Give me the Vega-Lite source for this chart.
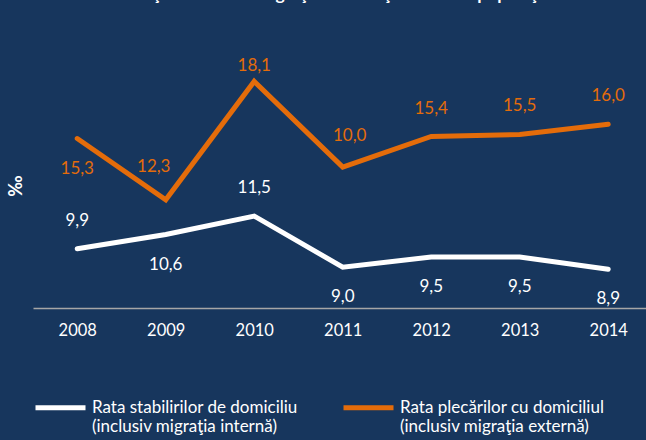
{
  "$schema": "https://vega.github.io/schema/vega-lite/v6.json",
  "autosize": {"type": "none"},
  "width": 613,
  "height": 245,
  "padding": {"left": 33, "top": 63, "right": 0, "bottom": 132},
  "background": "#17365D",
  "title": {
    "text": "Evoluţia ratelor de migraţie internă şi externă a populaţiei",
    "color": "#FFFFFF",
    "font": "Lato",
    "fontSize": 17.5,
    "fontWeight": "bold",
    "anchor": "middle",
    "baseline": "alphabetic",
    "offset": 40,
    "dx": -7
  },
  "config": {
    "view": {"stroke": null},
    "font": "Lato"
  },
  "data": {
    "values": [
      {"year": 2008, "series": "Rata stabilirilor de domiciliu (inclusiv migraţia internă)", "value": 9.9, "label": "9,9"},
      {"year": 2009, "series": "Rata stabilirilor de domiciliu (inclusiv migraţia internă)", "value": 10.6, "label": "10,6"},
      {"year": 2010, "series": "Rata stabilirilor de domiciliu (inclusiv migraţia internă)", "value": 11.5, "label": "11,5"},
      {"year": 2011, "series": "Rata stabilirilor de domiciliu (inclusiv migraţia internă)", "value": 9.0, "label": "9,0"},
      {"year": 2012, "series": "Rata stabilirilor de domiciliu (inclusiv migraţia internă)", "value": 9.5, "label": "9,5"},
      {"year": 2013, "series": "Rata stabilirilor de domiciliu (inclusiv migraţia internă)", "value": 9.5, "label": "9,5"},
      {"year": 2014, "series": "Rata stabilirilor de domiciliu (inclusiv migraţia internă)", "value": 8.9, "label": "8,9"},
      {"year": 2008, "series": "Rata plecărilor cu domiciliul (inclusiv migraţia externă)", "value": 15.3, "label": "15,3"},
      {"year": 2009, "series": "Rata plecărilor cu domiciliul (inclusiv migraţia externă)", "value": 12.3, "label": "12,3"},
      {"year": 2010, "series": "Rata plecărilor cu domiciliul (inclusiv migraţia externă)", "value": 18.1, "label": "18,1"},
      {"year": 2011, "series": "Rata plecărilor cu domiciliul (inclusiv migraţia externă)", "value": 13.9, "label": "10,0"},
      {"year": 2012, "series": "Rata plecărilor cu domiciliul (inclusiv migraţia externă)", "value": 15.4, "label": "15,4"},
      {"year": 2013, "series": "Rata plecărilor cu domiciliul (inclusiv migraţia externă)", "value": 15.5, "label": "15,5"},
      {"year": 2014, "series": "Rata plecărilor cu domiciliul (inclusiv migraţia externă)", "value": 16.0, "label": "16,0"}
    ]
  },
  "encoding": {
    "x": {
      "field": "year",
      "type": "quantitative",
      "scale": {"domain": [2007.5, 2014.427], "nice": false, "zero": false},
      "axis": {
        "title": null,
        "values": [2008, 2009, 2010, 2011, 2012, 2013, 2014],
        "format": "d",
        "grid": false,
        "ticks": false,
        "domainColor": "#A6A6A6",
        "domainWidth": 1.5,
        "labelColor": "#FFFFFF",
        "labelFont": "Lato",
        "labelFontSize": 16.5,
        "labelPadding": 14,
        "labelFlush": false
      }
    },
    "y": {
      "field": "value",
      "type": "quantitative",
      "scale": {"domain": [7, 19], "nice": false, "zero": false},
      "axis": {
        "title": "‰",
        "titleColor": "#FFFFFF",
        "titleFont": "Lato",
        "titleFontSize": 18,
        "titleFontWeight": "bold",
        "titlePadding": 8,
        "labels": false,
        "ticks": false,
        "domain": false,
        "grid": false
      }
    },
    "color": {
      "field": "series",
      "type": "nominal",
      "scale": {
        "domain": [
          "Rata stabilirilor de domiciliu (inclusiv migraţia internă)",
          "Rata plecărilor cu domiciliul (inclusiv migraţia externă)"
        ],
        "range": ["#FFFFFF", "#E46C0A"]
      }
    }
  },
  "layer": [
    {
      "mark": {"type": "line", "strokeWidth": 5, "strokeCap": "round"},
      "encoding": {
        "color": {
          "field": "series",
          "type": "nominal",
          "legend": {
            "title": null,
            "orient": "none",
            "legendX": 0,
            "legendY": 317,
            "direction": "horizontal",
            "symbolType": "stroke",
            "symbolSize": 2500,
            "symbolStrokeWidth": 5,
            "labelColor": "#FFFFFF",
            "labelFont": "Lato",
            "labelFontSize": 17,
            "labelLimit": 320,
            "labelOffset": 4,
            "columnPadding": 35,
            "labelExpr": "[slice(datum.label, 0, indexof(datum.label, ' (')), slice(datum.label, indexof(datum.label, ' (') + 1)]"
          }
        }
      }
    },
    {
      "transform": [
        {"filter": "(datum.series[5] == 's' && (datum.year == 2008 || datum.year == 2010)) || (datum.series[5] == 'p' && datum.year >= 2012)"}
      ],
      "mark": {"type": "text", "fontSize": 17, "font": "Lato", "dy": -28},
      "encoding": {"text": {"field": "label"}}
    },
    {
      "transform": [
        {"filter": "(datum.series[5] == 's' && datum.year != 2008 && datum.year != 2010) || (datum.series[5] == 'p' && datum.year == 2008)"}
      ],
      "mark": {"type": "text", "fontSize": 17, "font": "Lato", "dy": 30},
      "encoding": {"text": {"field": "label"}}
    },
    {
      "transform": [
        {"filter": "datum.series[5] == 'p' && datum.year == 2010"}
      ],
      "mark": {"type": "text", "fontSize": 17, "font": "Lato", "dy": -15},
      "encoding": {"text": {"field": "label"}}
    },
    {
      "transform": [
        {"filter": "datum.series[5] == 'p' && datum.year == 2009"}
      ],
      "mark": {"type": "text", "fontSize": 17, "font": "Lato", "dy": -33, "dx": -12},
      "encoding": {"text": {"field": "label"}}
    },
    {
      "transform": [
        {"filter": "datum.series[5] == 'p' && datum.year == 2011"}
      ],
      "mark": {"type": "text", "fontSize": 17, "font": "Lato", "dy": -31, "dx": 7},
      "encoding": {"text": {"field": "label"}}
    }
  ]
}
